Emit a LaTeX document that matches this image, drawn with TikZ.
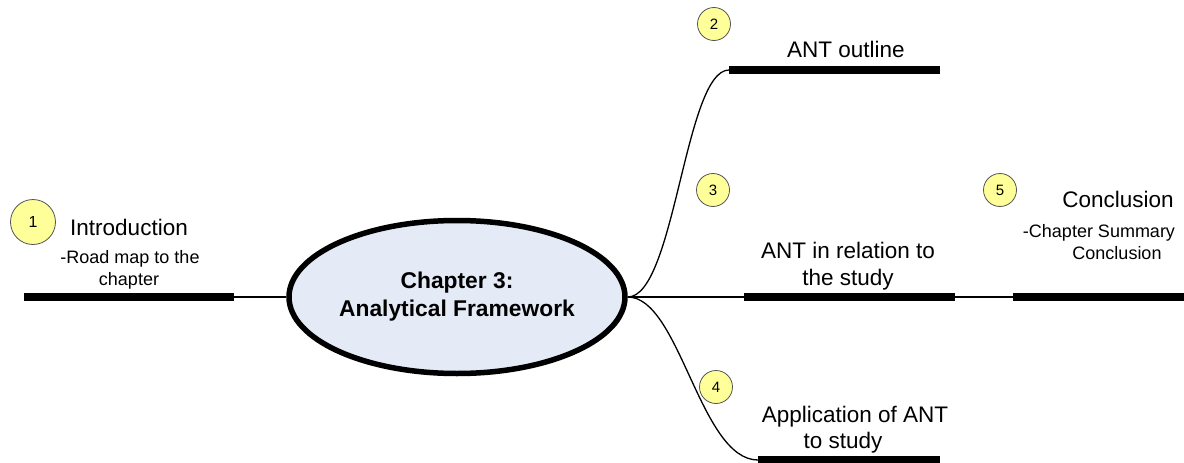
\documentclass[tikz,border=0pt]{standalone}
\usepackage{fontspec}
\setmainfont{Liberation Sans}
\usetikzlibrary{shapes.geometric}
\definecolor{hubfill}{HTML}{E4EAF6}
\definecolor{badgefill}{HTML}{FFFF99}
\definecolor{badgeline}{HTML}{555555}
\begin{document}
\begin{tikzpicture}[x=1pt,y=-1pt,
  bar/.style={line width=8pt},
  link/.style={line width=1.3pt},
  badge/.style={circle, draw=badgeline, fill=badgefill, line width=0.8pt,
    minimum size=33pt, inner sep=0pt, font=\fontsize{15}{15}\selectfont},
  head/.style={font=\fontsize{22.5}{27}\selectfont, anchor=base, inner sep=0pt},
  sub/.style={font=\fontsize{18}{21}\selectfont, anchor=base, inner sep=0pt}]
\useasboundingbox (0,0) rectangle (1184,463);

% central topic
\node[ellipse, draw, line width=5.5pt, fill=hubfill, minimum width=336pt,
  minimum height=153pt, inner sep=0pt, align=center,
  font=\bfseries\fontsize{22.8}{28}\selectfont] (hub) at (457,297)
  {Chapter 3:\\Analytical Framework};

% bar end points
\coordinate (introL) at (24,297);
\coordinate (introR) at (234,297);
\coordinate (outL) at (729,70);
\coordinate (outR) at (940,70);
\coordinate (relL) at (744,297);
\coordinate (relR) at (955,297);
\coordinate (conL) at (1013,297);
\coordinate (conR) at (1184,297);
\coordinate (appL) at (758,460);
\coordinate (appR) at (940,460);

% connectors
\draw[link] (introR) -- (hub.west);
\draw[link] (hub.east) .. controls +(47,0) and +(-44,0) .. (outL);
\draw[link] (hub.east) -- (relL);
\draw[link] (hub.east) .. controls +(52,0) and +(-58,0) .. (appL);
\draw[link] (relR) -- (conL);

% topic bars
\draw[bar] (introL) -- (introR);
\draw[bar] (outL) -- (outR);
\draw[bar] (relL) -- (relR);
\draw[bar] (conL) -- (conR);
\draw[bar] (appL) -- (appR);

% topic labels
\node[head] (introT) at (129,235) {Introduction};
\node[sub] (introS1) at (130,263) {-Road map to the};
\node[sub] (introS2) at (129,285) {chapter};
\node[head] (outT) at (846,57) {ANT outline};
\node[head] (relT1) at (848,258) {ANT in relation to};
\node[head] (relT2) at (848,285) {the study};
\node[head] (conT) at (1118,207) {Conclusion};
\node[sub] (conS1) at (1099,237) {-Chapter Summary};
\node[sub] (conS2) at (1117,259) {Conclusion};
\node[head] (appT1) at (855,422) {Application of ANT};
\node[head] (appT2) at (843,448) {to study};

% numbered badges
\node[badge, minimum size=45pt, font=\fontsize{16}{16}\selectfont] (b1) at (33,222) {1};
\node[badge] (b2) at (714,24) {2};
\node[badge] (b3) at (713,190) {3};
\node[badge] (b4) at (716,387) {4};
\node[badge] (b5) at (1000,190) {5};
\end{tikzpicture}
\end{document}
